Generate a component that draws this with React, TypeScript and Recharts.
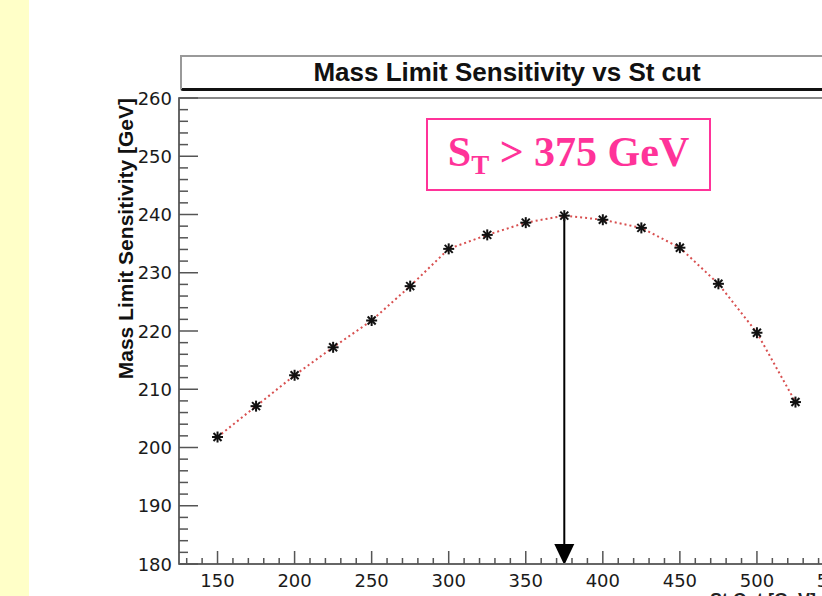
import { LineChart, Line, XAxis, YAxis, ReferenceLine, ReferenceArea } from "recharts"

// St cut values [GeV] and the mass limit sensitivity
const stCut = [150, 175, 200, 225, 250, 275, 300, 325, 350, 375, 400, 425, 450, 475, 500, 525]
const massLimit = [201.8, 207.1, 212.4, 217.2, 221.8, 227.7, 234.1, 236.5, 238.6, 239.8, 239.1, 237.7, 234.3, 228.1, 219.7, 207.8]

const xMajorTicks = [150, 200, 250, 300, 350, 400, 450, 500, 550]
const yMajorTicks = [180, 190, 200, 210, 220, 230, 240, 250, 260]
const xDomain = [125, 550]
const yDomain = [180, 260]
const chosenCut = 375

const xTicks: number[] = []
for (let v = 130; v <= 550; v += 10) xTicks.push(v)
const yTicks: number[] = []
for (let v = 180; v <= 260; v += 2) yTicks.push(v)

const data = stCut.map((st, i) => ({ st, limit: massLimit[i] }))
const peak = massLimit[stCut.indexOf(chosenCut)]

const tickFont = '"DejaVu Sans", sans-serif'

const XTick = ({ x, y, payload }: any) => {
  const v = payload.value
  const major = xMajorTicks.includes(v)
  return (
    <g>
      <line x1={x} x2={x} y1={y} y2={y - (major ? 13 : 6)} stroke="#555" strokeWidth={1.5} />
      {major && (
        <text x={x} y={y + 23} textAnchor="middle" fontFamily={tickFont} fontSize={18} fill="#1a1a1a">
          {v}
        </text>
      )}
    </g>
  )
}

const YTick = ({ x, y, payload }: any) => {
  const v = payload.value
  const major = yMajorTicks.includes(v)
  return (
    <g>
      <line x1={x} x2={x + (major ? 19 : 9)} y1={y} y2={y} stroke="#555" strokeWidth={1.5} />
      {major && (
        <text x={x - 7} y={y + 6.5} textAnchor="end" fontFamily={tickFont} fontSize={18} fill="#1a1a1a">
          {v}
        </text>
      )}
    </g>
  )
}

const StarDot = ({ cx, cy }: any) => (
  <g stroke="#111" strokeWidth={2}>
    <line x1={cx - 5.5} x2={cx + 5.5} y1={cy} y2={cy} />
    <line x1={cx} x2={cx} y1={cy - 5.5} y2={cy + 5.5} />
    <line x1={cx - 4} y1={cy - 4} x2={cx + 4} y2={cy + 4} />
    <line x1={cx - 4} y1={cy + 4} x2={cx + 4} y2={cy - 4} />
  </g>
)

const Arrow = ({ x1, y1, y2 }: any) => {
  const top = Math.min(y1, y2)
  const bot = Math.max(y1, y2) + 1
  return (
    <g>
      <line x1={x1} x2={x1} y1={top} y2={bot - 18} stroke="#000" strokeWidth={2} />
      <polygon points={`${x1 - 10},${bot - 21} ${x1 + 10},${bot - 21} ${x1},${bot}`} fill="#000" />
    </g>
  )
}

const YLabel = ({ viewBox }: any) => {
  const x = viewBox.x + viewBox.width - 46
  const y = viewBox.y
  return (
    <text
      x={x}
      y={y}
      transform={`rotate(-90, ${x}, ${y})`}
      textAnchor="end"
      fontFamily='"Liberation Sans", Arial, sans-serif'
      fontWeight="bold"
      fontSize={21}
      fill="#111"
    >
      Mass Limit Sensitivity [GeV]
    </text>
  )
}

const App = () => {
  return (
    <div style={{ position: "relative", width: 822, height: 596, overflow: "hidden", background: "#fff" }}>
      <style>{`body{margin:0}`}</style>
      <div style={{ position: "absolute", left: 0, top: 0, width: 29, height: 596, background: "#ffffc8" }} />
      <div
        style={{
          position: "absolute",
          left: 180,
          top: 55,
          width: 650,
          height: 31,
          borderTop: "2px solid #999",
          borderLeft: "2px solid #999",
          borderBottom: "3px solid #111",
          borderBottomLeftRadius: 3,
          textAlign: "center",
          fontFamily: '"Liberation Sans", Arial, sans-serif',
          fontWeight: "bold",
          fontSize: 26,
          lineHeight: "31px",
          color: "#111",
        }}
      >
        Mass Limit Sensitivity vs St cut
      </div>
      <div style={{ position: "absolute", left: 0, top: 0 }}>
        <LineChart width={860} height={596} data={data} margin={{ top: 98, right: 26, left: 0, bottom: 0 }}>
          <ReferenceArea x1={xDomain[0]} x2={xDomain[1]} y1={yDomain[0]} y2={yDomain[1]} fill="none" stroke="#888" strokeWidth={2} />
          <XAxis
            dataKey="st"
            type="number"
            domain={xDomain}
            ticks={xTicks}
            interval={0}
            height={32}
            tickSize={0}
            tickMargin={0}
            tick={<XTick />}
            axisLine={{ stroke: "#666", strokeWidth: 2 }}
            allowDataOverflow
          />
          <YAxis
            type="number"
            domain={yDomain}
            ticks={yTicks}
            interval={0}
            width={179}
            tickSize={0}
            tickMargin={0}
            tick={<YTick />}
            axisLine={{ stroke: "#666", strokeWidth: 2 }}
            label={<YLabel />}
            allowDataOverflow
          />
          <Line
            dataKey="limit"
            stroke="#d85050"
            strokeWidth={2}
            strokeDasharray="2 3"
            dot={<StarDot />}
            isAnimationActive={false}
          />
          <ReferenceLine
            segment={[
              { x: chosenCut, y: peak },
              { x: chosenCut, y: yDomain[0] },
            ]}
            shape={(p: any) => <Arrow {...p} />}
          />
        </LineChart>
      </div>
      <div
        style={{
          position: "absolute",
          left: 426,
          top: 118,
          width: 281,
          height: 69,
          border: "2px solid #ff3399",
          display: "flex",
          alignItems: "center",
          justifyContent: "center",
          fontFamily: '"Liberation Serif", "Times New Roman", serif',
          fontWeight: "bold",
          fontSize: 42,
          color: "#ff3399",
          whiteSpace: "nowrap",
        }}
      >
        <span>
          S<sub style={{ fontSize: 27, verticalAlign: "-0.3em" }}>T</sub> &gt; 375 GeV
        </span>
      </div>
      <div
        style={{
          position: "absolute",
          left: 710,
          top: 591,
          fontFamily: '"Liberation Sans", Arial, sans-serif',
          fontWeight: "bold",
          fontSize: 18,
          lineHeight: "18px",
          color: "#222",
          whiteSpace: "nowrap",
        }}
      >
        St Cut [GeV]
      </div>
    </div>
  )
}

export default App
